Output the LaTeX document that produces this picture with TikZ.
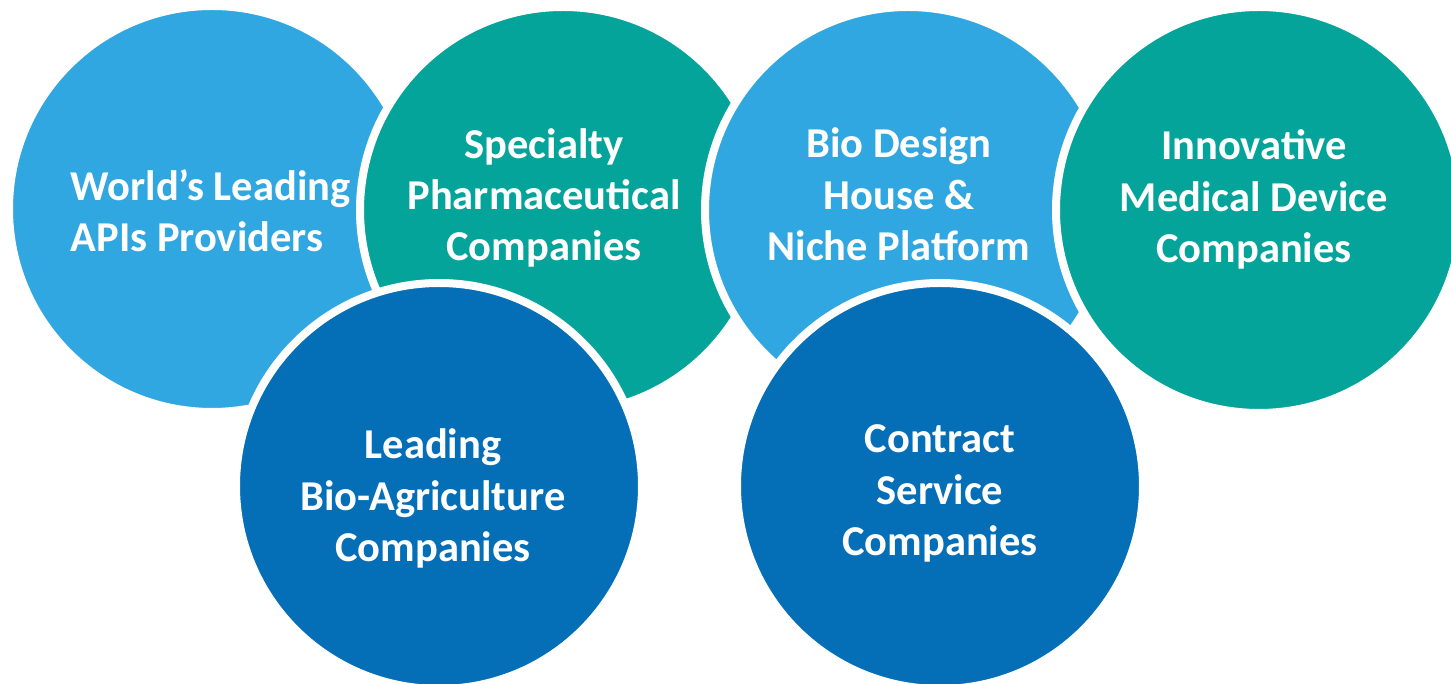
\documentclass[tikz,border=0pt]{standalone}
\usepackage{fontspec}
\setmainfont{Carlito}
\usepackage{tikz}
\usetikzlibrary{positioning}
\definecolor{skyblue}{RGB}{48,167,224}
\definecolor{teal}{RGB}{4,164,154}
\definecolor{deepblue}{RGB}{4,110,183}

\begin{document}
\begin{tikzpicture}[
  bubble/.style={circle,draw=white,line width=0.08cm,minimum size=4.06cm,inner sep=0pt},
  lbl/.style={text=white,font=\fontsize{12.1}{14.6}\selectfont\bfseries,inner sep=0pt,align=center}]
\useasboundingbox (0,0) rectangle (14.51,6.84);
% upper row
\node[bubble,fill=skyblue] (api) at (2.12,4.75) {};
\node[bubble,fill=teal] (pharma) at (5.63,4.74) {};
\node[bubble,fill=skyblue] (design) at (9.08,4.74) {};
\node[bubble,fill=teal] (device) at (12.59,4.74) {};
% lower row
\node[bubble,fill=deepblue] (agri) at (4.39,1.98) {};
\node[bubble,fill=deepblue] (contract) at (9.40,1.98) {};
% labels
\node[lbl,align=left,anchor=west] (apitxt) at (0.70,4.735) {World’s Leading\\APIs Providers};
\node[lbl] (pharmatxt) at (5.44,4.86) {Specialty\\Pharmaceutical\\Companies};
\node[lbl] (designtxt) at (8.99,4.895) {Bio Design\\House \&\\Niche Platform};
\node[lbl] (devicetxt) at (12.54,4.845) {Innovative\\Medical Device\\Companies};
\node[lbl] (agritxt) at (4.33,1.855) {Leading\\Bio-Agriculture\\Companies};
\node[lbl] (contracttxt) at (9.40,1.905) {Contract\\Service\\Companies};
\end{tikzpicture}
\end{document}
